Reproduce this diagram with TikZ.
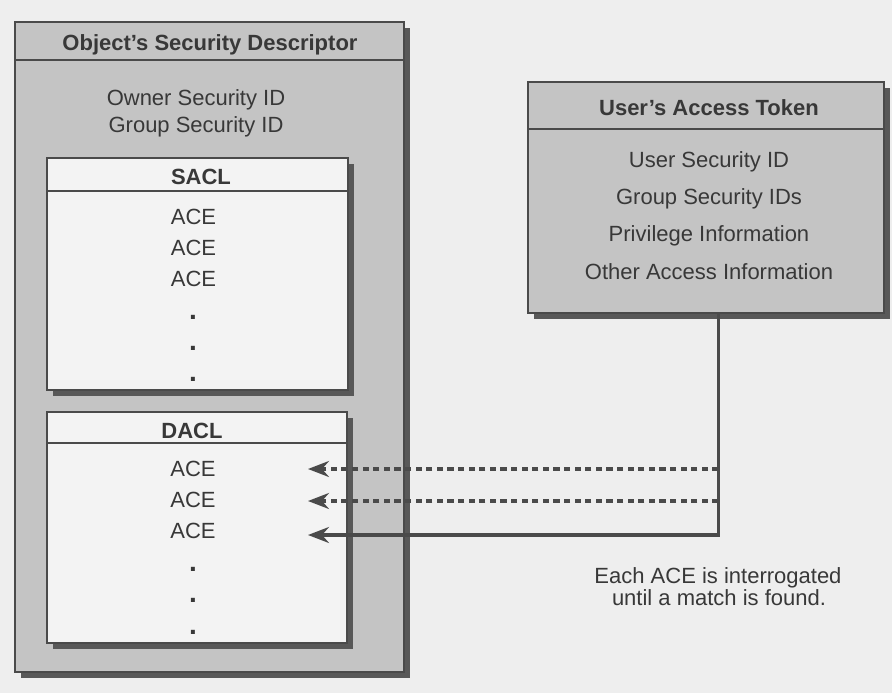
\documentclass[tikz,border=0pt]{standalone}
\usepackage{fontspec}
\setmainfont{Liberation Sans}
\usetikzlibrary{arrows.meta,shadows}

\definecolor{paper}{HTML}{EEEEEE}
\definecolor{panel}{HTML}{C4C4C4}
\definecolor{sheet}{HTML}{F3F3F3}
\definecolor{ink}{HTML}{4A4A4A}
\definecolor{shade}{HTML}{585858}
\definecolor{txt}{HTML}{383838}

\tikzset{
  frame/.style={draw=ink, line width=2pt, inner sep=0pt,
    general shadow={fill=shade, shadow xshift=6pt, shadow yshift=-6pt}},
  graybox/.style={frame, fill=panel},
  whitebox/.style={frame, fill=sheet},
  rule/.style={draw=ink, line width=2pt},
  lbl/.style={text=txt, anchor=base, inner sep=0pt,
    font=\fontsize{22}{26}\selectfont},
  head/.style={lbl, font=\bfseries\fontsize{22}{26}\selectfont},
  ellip/.style={lbl, font=\bfseries\fontsize{28}{30}\selectfont},
  link/.style={draw=ink, line width=3.2pt, line join=miter,
    -{Stealth[length=21pt, width=16pt, inset=7pt]}},
  probe/.style={link, dash pattern=on 6.2pt off 4.4pt}
}

\begin{document}
\begin{tikzpicture}[x=1pt, y=-1pt]
  % page
  \fill[paper] (0,0) rectangle (892,693);
  \useasboundingbox (0,0) rectangle (892,693);

  % object's security descriptor
  \node[graybox, minimum width=389pt, minimum height=650pt] (osd) at (209.5,347) {};
  \draw[rule] ([yshift=-39pt]osd.north west) -- ([yshift=-39pt]osd.north east);
  \node[head] (osdtitle) at (210,51) {Object’s Security Descriptor};
  \node[lbl] (owner) at (196,106) {Owner Security ID};
  \node[lbl] (group) at (196,132) {Group Security ID};

  % SACL
  \node[whitebox, minimum width=301pt, minimum height=232pt] (sacl) at (197.5,274) {};
  \draw[rule] ([yshift=-34pt]sacl.north west) -- ([yshift=-34pt]sacl.north east);
  \node[head] (sacltitle) at (201,184) {SACL};
  \node[lbl] (s1) at (193.5,224.5) {ACE};
  \node[lbl] (s2) at (193.5,255.5) {ACE};
  \node[lbl] (s3) at (193.5,286.5) {ACE};
  \node[ellip] (s4) at (193,319) {.};
  \node[ellip] (s5) at (193,350) {.};
  \node[ellip] (s6) at (193,381) {.};

  % DACL
  \node[whitebox, minimum width=300pt, minimum height=231pt] (dacl) at (197,527.5) {};
  \draw[rule] ([yshift=-32pt]dacl.north west) -- ([yshift=-32pt]dacl.north east);
  \node[head] (dacltitle) at (192,438) {DACL};
  \node[lbl] (d1) at (193,476) {ACE};
  \node[lbl] (d2) at (193,507) {ACE};
  \node[lbl] (d3) at (193,538) {ACE};
  \node[ellip] (d4) at (193,571) {.};
  \node[ellip] (d5) at (193,602.5) {.};
  \node[ellip] (d6) at (193,634) {.};

  % user's access token
  \node[graybox, minimum width=356pt, minimum height=231pt] (tok) at (706,197.5) {};
  \draw[rule] ([yshift=-48pt]tok.north west) -- ([yshift=-48pt]tok.north east);
  \node[head] (toktitle) at (709,115.5) {User’s Access Token};
  \node[lbl] (t1) at (709,167) {User Security ID};
  \node[lbl] (t2) at (709,204) {Group Security IDs};
  \node[lbl] (t3) at (709,241.5) {Privilege Information};
  \node[lbl] (t4) at (709,279) {Other Access Information};

  % comparison arrows
  \coordinate (j1) at (718.5,469);
  \coordinate (j2) at (718.5,501);
  \coordinate (j3) at (718.5,535);
  \coordinate (a1) at (308,469);
  \coordinate (a2) at (308,501);
  \coordinate (a3) at (308,535);
  \draw[probe] (j1) -- (a1);
  \draw[probe] (j2) -- (a2);
  \draw[link] (tok.south -| j3) -- (j3) -- (a3);

  % caption
  \node[lbl] (cap1) at (718,583) {Each ACE is interrogated};
  \node[lbl] (cap2) at (719,605.5) {until a match is found.};
\end{tikzpicture}
\end{document}
